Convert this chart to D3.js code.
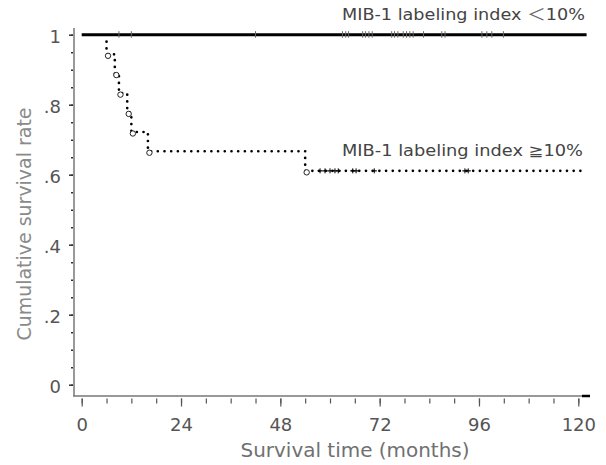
<!DOCTYPE html>
<html>
<head>
<meta charset="utf-8">
<script src="https://cdn.jsdelivr.net/npm/d3@7"></script>
<style>
  body { margin: 0; background: #fff; }
  svg { display: block; font-family: "DejaVu Sans", Verdana, sans-serif; }
</style>
</head>
<body>
<div id="chart"></div>
<script>
'use strict';

// MIB-1 < 10% : no events, censored times (months)
var lowCensor = [9, 12, 42, 63, 63.8, 64.5, 67.9, 68.6, 69.4, 70.2, 74.9, 75.6, 76.4,
  77.7, 78.5, 79.3, 80.1, 82.6, 87, 87.8, 96.7, 97.9, 99.1, 101.9];
var lowEnd = 122;

// MIB-1 >= 10% : step times and survival after each step
var highTimes = [0, 6, 8, 9, 11, 12, 16, 54];
var highSurv = [1, 0.944, 0.889, 0.833, 0.778, 0.722, 0.667, 0.611];
var highCensor = [57.6, 58.8, 60, 61.2, 62, 65.5, 66.3, 70.7, 92.6, 93.4];
var highEnd = 122;

var xTicks = [0, 24, 48, 72, 96, 120];
var yTicks = [0, 0.2, 0.4, 0.6, 0.8, 1];
var yTickLabels = ['0', '.2', '.4', '.6', '.8', '1'];

var w = 606, h = 465;

var svg = d3.select('#chart').append('svg')
  .attr('width', w)
  .attr('height', h);

var x = d3.scaleLinear().domain([0, 120]).range([81.7, 578.3]);
var y = d3.scaleLinear().domain([0, 1]).range([384.7, 34.7]);

var line = d3.line()
  .x(function (d) { return x(d[0]); })
  .y(function (d) { return y(d[1]); });

// axis lines
svg.append('line')
  .attr('x1', 74).attr('x2', 74).attr('y1', 28).attr('y2', 396.5)
  .attr('stroke', '#777').attr('stroke-width', 1.5);
svg.append('line')
  .attr('x1', 73.3).attr('x2', 584).attr('y1', 396).attr('y2', 396)
  .attr('stroke', '#777').attr('stroke-width', 1.5);
svg.append('line')
  .attr('x1', 582).attr('x2', 590).attr('y1', 396).attr('y2', 396)
  .attr('stroke', '#000').attr('stroke-width', 2.5);

// y ticks: minor every .05, major every .2
var yAxisMinor = d3.axisLeft(y)
  .tickValues(d3.range(0, 1.001, 0.05))
  .tickSize(2)
  .tickFormat('');
svg.append('g')
  .attr('transform', 'translate(73,0)')
  .call(yAxisMinor)
  .call(function (g) { g.select('.domain').remove(); })
  .selectAll('line').attr('stroke', '#333').attr('stroke-width', 1.5);

var yAxis = d3.axisLeft(y)
  .tickValues(yTicks)
  .tickSize(4)
  .tickPadding(8)
  .tickFormat(function (d, i) { return yTickLabels[i]; });
var yg = svg.append('g')
  .attr('transform', 'translate(73,0)')
  .call(yAxis)
  .call(function (g) { g.select('.domain').remove(); });
yg.selectAll('line').attr('stroke', '#333').attr('stroke-width', 1.5);
yg.selectAll('text')
  .attr('font-family', '"DejaVu Sans", Verdana, sans-serif')
  .attr('font-size', 18)
  .attr('fill', '#555')
  .attr('dy', '0.45em');

// x ticks: minor every 6 months, major every 24
var xAxisMinor = d3.axisBottom(x)
  .tickValues(d3.range(0, 121, 6))
  .tickSize(5)
  .tickFormat('');
svg.append('g')
  .attr('transform', 'translate(0,398.5)')
  .call(xAxisMinor)
  .call(function (g) { g.select('.domain').remove(); })
  .selectAll('line').attr('stroke', '#555').attr('stroke-width', 1.2);

var xAxis = d3.axisBottom(x)
  .tickValues(xTicks)
  .tickSize(8)
  .tickPadding(12)
  .tickFormat(d3.format('d'));
var xg = svg.append('g')
  .attr('transform', 'translate(0,398.5)')
  .call(xAxis)
  .call(function (g) { g.select('.domain').remove(); });
xg.selectAll('line').attr('stroke', '#555').attr('stroke-width', 1.2);
xg.selectAll('text')
  .attr('font-family', '"DejaVu Sans", Verdana, sans-serif')
  .attr('font-size', 18)
  .attr('fill', '#555');

// axis titles
svg.append('text')
  .attr('x', 355).attr('y', 457)
  .attr('text-anchor', 'middle')
  .attr('font-size', 19)
  .attr('fill', '#707070')
  .attr('textLength', 229)
  .attr('lengthAdjust', 'spacingAndGlyphs')
  .text('Survival time (months)');

svg.append('text')
  .attr('transform', 'translate(31,224) rotate(-90)')
  .attr('text-anchor', 'middle')
  .attr('font-size', 20)
  .attr('fill', '#8a8a8a')
  .attr('textLength', 233)
  .attr('lengthAdjust', 'spacingAndGlyphs')
  .text('Cumulative survival rate');

// low group: solid thick line at 1
svg.append('path')
  .attr('d', line([[0, 1], [lowEnd, 1]]))
  .attr('fill', 'none')
  .attr('stroke', '#000')
  .attr('stroke-width', 3);

svg.append('g').selectAll('line')
  .data(lowCensor)
  .enter().append('line')
  .attr('x1', function (d) { return x(d); })
  .attr('x2', function (d) { return x(d); })
  .attr('y1', y(1) - 3.5)
  .attr('y2', y(1) + 3)
  .attr('stroke', '#666')
  .attr('stroke-width', 1);

// high group: dotted step line (the 1.0 segment sits under the solid line)
var hiPts = [[highTimes[1], 0.98]];
for (var i = 1; i < highTimes.length; i++) {
  if (i > 1) hiPts.push([highTimes[i], highSurv[i - 1]]);
  hiPts.push([highTimes[i], highSurv[i]]);
}
hiPts.push([highEnd, highSurv[highSurv.length - 1]]);

svg.append('path')
  .attr('d', line(hiPts))
  .attr('fill', 'none')
  .attr('stroke', '#000')
  .attr('stroke-width', 2.7)
  .attr('stroke-linecap', 'round')
  .attr('stroke-dasharray', '0 6.7');

// event circles
svg.append('g').selectAll('circle')
  .data(highTimes.slice(1))
  .enter().append('circle')
  .attr('cx', function (d) { return x(d) + 1.5; })
  .attr('cy', function (d, i) { return y(highSurv[i + 1]) + 1.5; })
  .attr('r', 2.7)
  .attr('fill', '#fff')
  .attr('stroke', '#222')
  .attr('stroke-width', 1);

// censor marks on high group
var hc = svg.append('g').selectAll('g')
  .data(highCensor)
  .enter().append('g')
  .attr('transform', function (d) { return 'translate(' + x(d) + ',' + y(highSurv[highSurv.length - 1]) + ')'; });
hc.append('line').attr('x1', 0).attr('x2', 0).attr('y1', -2.5).attr('y2', 2.5)
  .attr('stroke', '#000').attr('stroke-width', 1);
hc.append('line').attr('x1', -2.5).attr('x2', 2.5).attr('y1', 0).attr('y2', 0)
  .attr('stroke', '#000').attr('stroke-width', 1.2);

// group labels
var lab1 = svg.append('text')
  .attr('x', 342).attr('y', 20)
  .attr('font-size', 15)
  .attr('fill', '#444');
lab1.append('tspan').text('MIB-1 labeling index ');
lab1.append('tspan')
  .attr('font-family', '"Noto Sans CJK JP", sans-serif')
  .attr('font-size', 16)
  .attr('fill', '#666')
  .text('\uFF1C');
lab1.append('tspan').text('10%');
lab1.attr('textLength', 243).attr('lengthAdjust', 'spacingAndGlyphs');

svg.append('text')
  .attr('x', 342).attr('y', 155.5)
  .attr('font-size', 15)
  .attr('fill', '#444')
  .attr('textLength', 241)
  .attr('lengthAdjust', 'spacingAndGlyphs')
  .text('MIB-1 labeling index \u226710%');
</script>
</body>
</html>
